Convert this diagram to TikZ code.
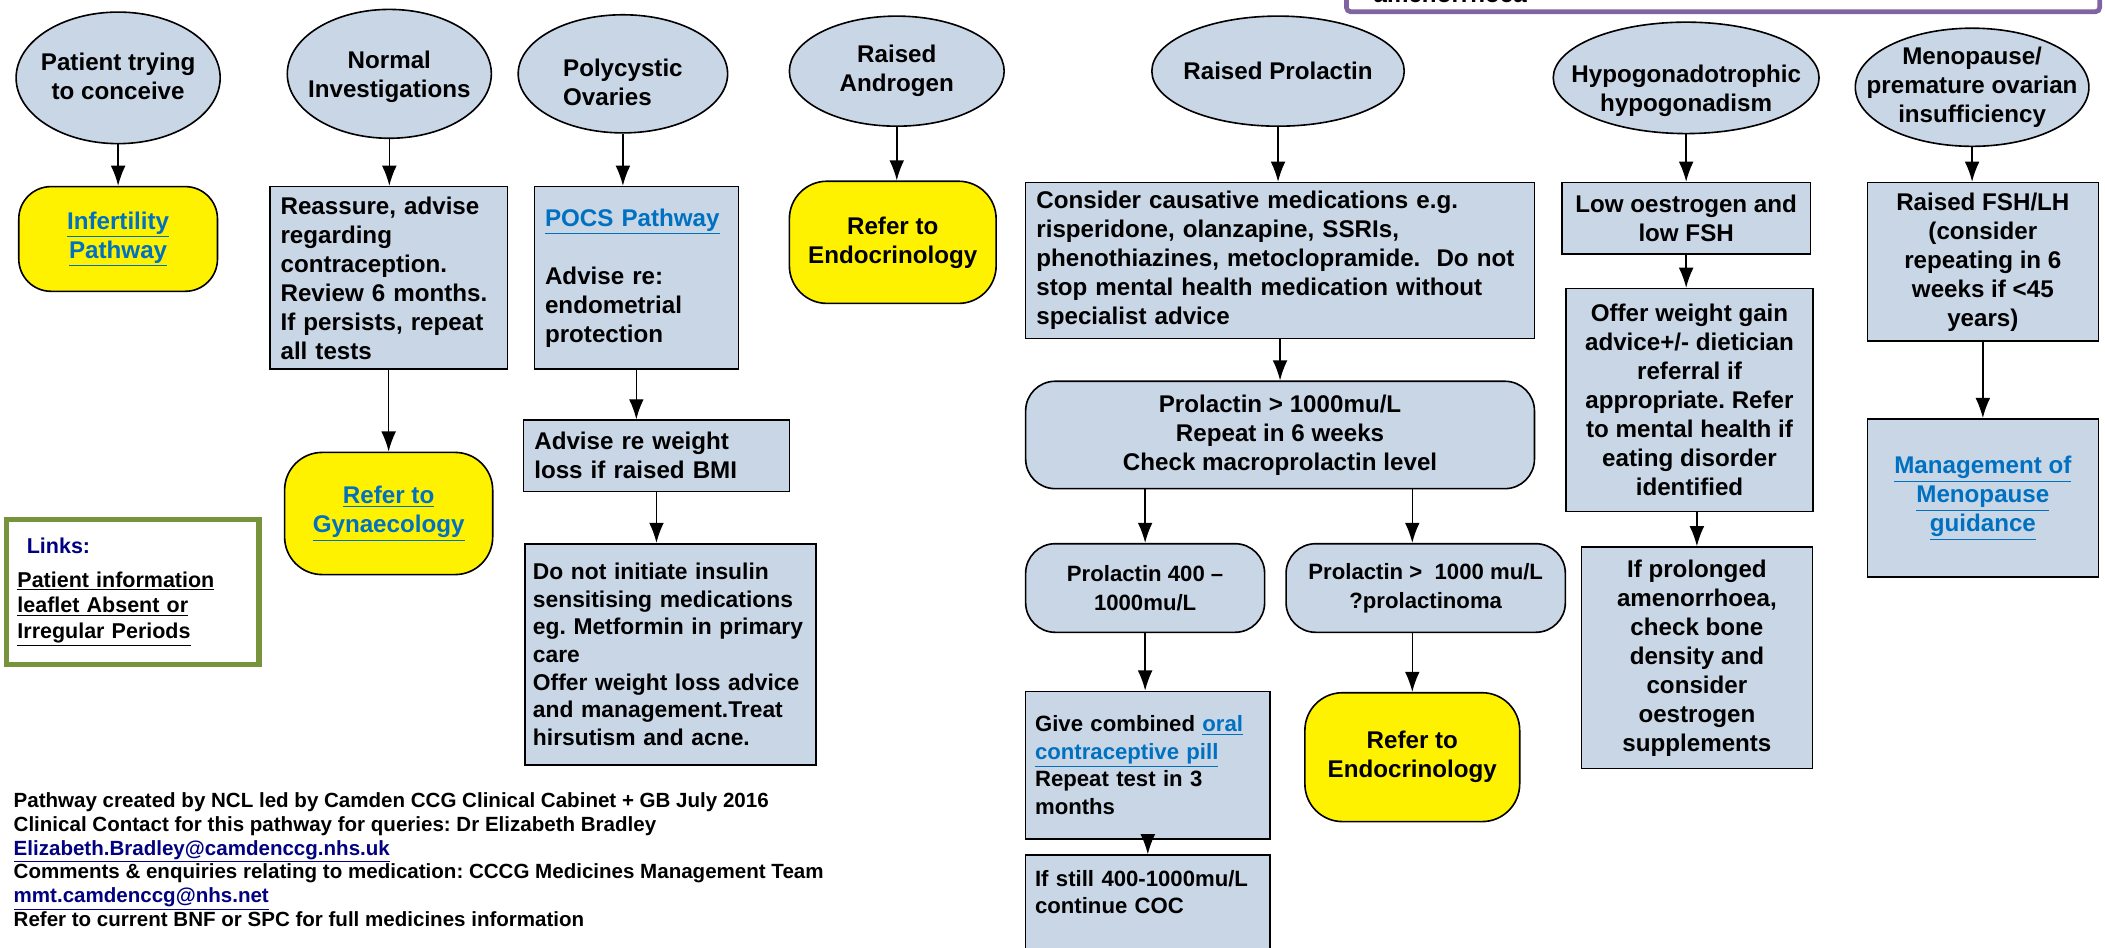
\documentclass[tikz,border=0pt]{standalone}
\usepackage{fontspec}
\setmainfont{Liberation Sans}
\usetikzlibrary{shapes.geometric, arrows.meta}
\definecolor{boxblue}{RGB}{200,214,230}
\definecolor{linkblue}{RGB}{0,112,192}
\definecolor{navy}{RGB}{0,0,128}
\definecolor{olivegreen}{RGB}{119,147,60}
\definecolor{notepurple}{RGB}{128,100,162}
\newcommand{\lnk}[1]{{\color{linkblue}\underline{#1}}}
\newcommand{\mail}[1]{{\color{navy}\underline{#1}}}
\frenchspacing
\hyphenpenalty=10000
\exhyphenpenalty=10000
\tikzset{every picture/.style = {x=1pt, y=-1pt}}
\tikzset{cond/.style = {ellipse, draw, fill=boxblue, line width=1.2pt, inner sep=0pt}}
\tikzset{condtext/.style = {align=center, inner sep=0pt, font=\fontsize{18}{21.6}\selectfont\bfseries}}
\tikzset{info/.style = {rectangle, draw, fill=boxblue, line width=1.2pt, inner xsep=8pt, align=left, font=\fontsize{18}{21.6}\selectfont\bfseries}}
\tikzset{result/.style = {info, align=center, rounded corners=22pt}}
\tikzset{refer/.style = {result, fill=yellow, rounded corners=28pt}}
\tikzset{flow/.style = {-{Latex[length=15pt, width=11pt]}, line width=1.1pt}}

\begin{document}
\begin{tikzpicture}
  \useasboundingbox (0,0) rectangle (1568,706);
  \clip (0,0) rectangle (1568,706);

  \draw[notepurple, line width=3.5pt, fill=white, rounded corners=3pt] (1003,-20) rectangle (1564,8.7);
  \node[anchor=base west, inner sep=0pt, font=\fontsize{18}{21.6}\selectfont\bfseries] (noteT) at (1023,2) {amenorrhoea};

  \node[cond, minimum width=152pt, minimum height=98pt] (pat) at (88,58) {};
  \node[condtext] (patT) at (88,57) {Patient trying\\to conceive};
  \node[cond, minimum width=152pt, minimum height=96pt] (norm) at (290,55) {};
  \node[condtext] (normT) at (290,57) {Normal\\Investigations};
  \node[cond, minimum width=156pt, minimum height=88pt] (poly) at (464,55) {};
  \node[condtext, align=left] (polyT) at (464,61) {Polycystic\\Ovaries};
  \node[cond, minimum width=160pt, minimum height=82pt] (andro) at (668,53) {};
  \node[condtext] (androT) at (andro) {Raised\\Androgen};
  \node[cond, minimum width=188pt, minimum height=82pt] (prol) at (952,53) {};
  \node[condtext] (prolT) at (prol) {Raised Prolactin};
  \node[cond, minimum width=198pt, minimum height=83pt] (hypo) at (1256,58) {};
  \node[condtext] (hypoT) at (1256,68) {Hypogonadotrophic\\hypogonadism};
  \node[cond, minimum width=174pt, minimum height=88pt] (meno) at (1469,65) {};
  \node[condtext] (menoT) at (meno) {Menopause/\\premature ovarian\\insufficiency};

  \node[refer, minimum width=148pt, minimum height=78pt, rounded corners=24pt] (infert) at (88,178) {\lnk{Infertility}\\\lnk{Pathway}};
  \node[info, minimum width=177pt, minimum height=136pt, text width=161pt] (reassure) at (289.5,207)
    {Reassure, advise\\regarding\\contraception.\\Review 6 months.\\If persists, repeat\\all tests};
  \node[refer, minimum width=155pt, minimum height=91pt] (gyn) at (289.5,382.5) {\lnk{Refer to}\\\lnk{Gynaecology}};
  \node[info, minimum width=152pt, minimum height=136pt, text width=136pt] (pocs) at (474,207)
    {\lnk{POCS Pathway}\\[21.6pt]Advise re:\\endometrial\\protection};
  \node[info, minimum width=198pt, minimum height=53pt, text width=182pt] (weight) at (489,339.5)
    {Advise re weight\\loss if raised BMI};
  \node[info, minimum width=217pt, minimum height=165pt, text width=205pt, inner xsep=6pt, font=\fontsize{17}{20.6}\selectfont\bfseries] (insulin) at (499.5,487.5)
    {Do not initiate insulin\\sensitising medications\\eg. Metformin in primary\\care\\Offer weight loss advice\\and management.Treat\\hirsutism and acne.};
  \node[refer, minimum width=154pt, minimum height=91pt] (endoA) at (665,180.5) {Refer to\\Endocrinology};

  \node[info, minimum width=379pt, minimum height=116pt, text width=363pt] (consider) at (953.5,194)
    {Consider causative medications e.g.\\risperidone, olanzapine, SSRIs,\\phenothiazines, metoclopramide. \ Do not\\stop mental health medication without\\specialist advice};
  \node[result, minimum width=379pt, minimum height=80pt] (prl) at (953.5,324)
    {Prolactin > 1000mu/L\\Repeat in 6 weeks\\Check macroprolactin level};
  \node[result, minimum width=178pt, minimum height=66pt, font=\fontsize{16.5}{21.6}\selectfont\bfseries] (prlmid) at (853,438) {Prolactin 400 --\\1000mu/L};
  \node[result, minimum width=208pt, minimum height=66pt, font=\fontsize{16.5}{21.6}\selectfont\bfseries] (prlhi) at (1062,438) {Prolactin > \ 1000 mu/L\\?prolactinoma};
  \node[info, minimum width=182pt, minimum height=110pt, text width=168pt, inner xsep=7pt, font=\fontsize{16.5}{20.5}\selectfont\bfseries] (coc) at (855,570)
    {Give combined \lnk{oral}\\\lnk{contraceptive pill}\\Repeat test in 3\\months};
  \node[info, minimum width=182pt, minimum height=75pt, text width=168pt, inner xsep=7pt, font=\fontsize{16.5}{20.5}\selectfont\bfseries] (still) at (855,674.5)
    {If still 400-1000mu/L\\continue COC\\\mbox{}};
  \node[refer, minimum width=160pt, minimum height=96pt] (endoB) at (1052,564) {Refer to\\Endocrinology};

  \node[info, align=center, minimum width=185pt, minimum height=53pt] (low) at (1256,162.5) {Low oestrogen and\\low FSH};
  \node[info, align=center, minimum width=184pt, minimum height=166pt] (offer) at (1258.5,298)
    {Offer weight gain\\advice+/- dietician\\referral if\\appropriate. Refer\\to mental health if\\eating disorder\\identified};
  \node[info, align=center, minimum width=172pt, minimum height=165pt] (prolonged) at (1264,490)
    {If prolonged\\amenorrhoea,\\check bone\\density and\\consider\\oestrogen\\supplements};
  \node[info, align=center, minimum width=172pt, minimum height=118pt] (fsh) at (1477,195)
    {Raised FSH/LH\\(consider\\repeating in 6\\weeks if <45\\years)};
  \node[info, align=center, minimum width=172pt, minimum height=118pt] (menoG) at (1477,371)
    {\lnk{Management of}\\\lnk{Menopause}\\\lnk{guidance}};

  \node[draw=olivegreen, line width=4pt, fill=white, minimum width=188pt, minimum height=108pt, text width=172pt, inner xsep=8pt, align=left, font=\fontsize{16}{19}\selectfont\bfseries] (links) at (99,441)
    {\hspace*{7pt}{\color{navy}Links:}\\[6pt]\underline{Patient information}\\\underline{leaflet Absent or}\\\underline{Irregular Periods}};
  \node[anchor=north west, inner sep=0pt, align=left, font=\fontsize{15.3}{17.8}\selectfont\bfseries] (credits) at (10,590)
    {Pathway created by NCL led by Camden CCG Clinical Cabinet + GB July 2016\\
     Clinical Contact for this pathway for queries: Dr Elizabeth Bradley\\
     \mail{Elizabeth.Bradley@camdenccg.nhs.uk}\\
     Comments \& enquiries relating to medication: CCCG Medicines Management Team\\
     \mail{mmt.camdenccg@nhs.net}\\
     Refer to current BNF or SPC for full medicines information};

  \draw[flow] (pat.south) -- (infert.north);
  \draw[flow] (norm.south) -- (norm.south |- reassure.north);
  \draw[flow] (reassure.south) -- (reassure.south |- gyn.north);
  \draw[flow] (poly.south) -- (poly.south |- pocs.north);
  \draw[flow] (pocs.south) -- (pocs.south |- weight.north);
  \draw[flow] (weight.south) -- (weight.south |- insulin.north);
  \draw[flow] (andro.south) -- (andro.south |- endoA.north);
  \draw[flow] (prol.south) -- (prol.south |- consider.north);
  \draw[flow] (consider.south) -- (consider.south |- prl.north);
  \draw[flow] (prlmid.north |- prl.south) -- (prlmid.north);
  \draw[flow] (prl.south -| endoB.north) -- (prlhi.north -| endoB.north);
  \draw[flow] (prlhi.south -| endoB.north) -- (endoB.north);
  \draw[flow] (prlmid.south) -- (prlmid.south |- coc.north);
  \draw[flow] (coc.south) -- (coc.south |- still.north);
  \draw[flow] (hypo.south) -- (hypo.south |- low.north);
  \draw[flow] (low.south) -- (low.south |- offer.north);
  \draw[flow] (prolonged.north |- offer.south) -- (prolonged.north);
  \draw[flow] (meno.south) -- (meno.south |- fsh.north);
  \draw[flow] (fsh.south) -- (fsh.south |- menoG.north);
\end{tikzpicture}
\end{document}
